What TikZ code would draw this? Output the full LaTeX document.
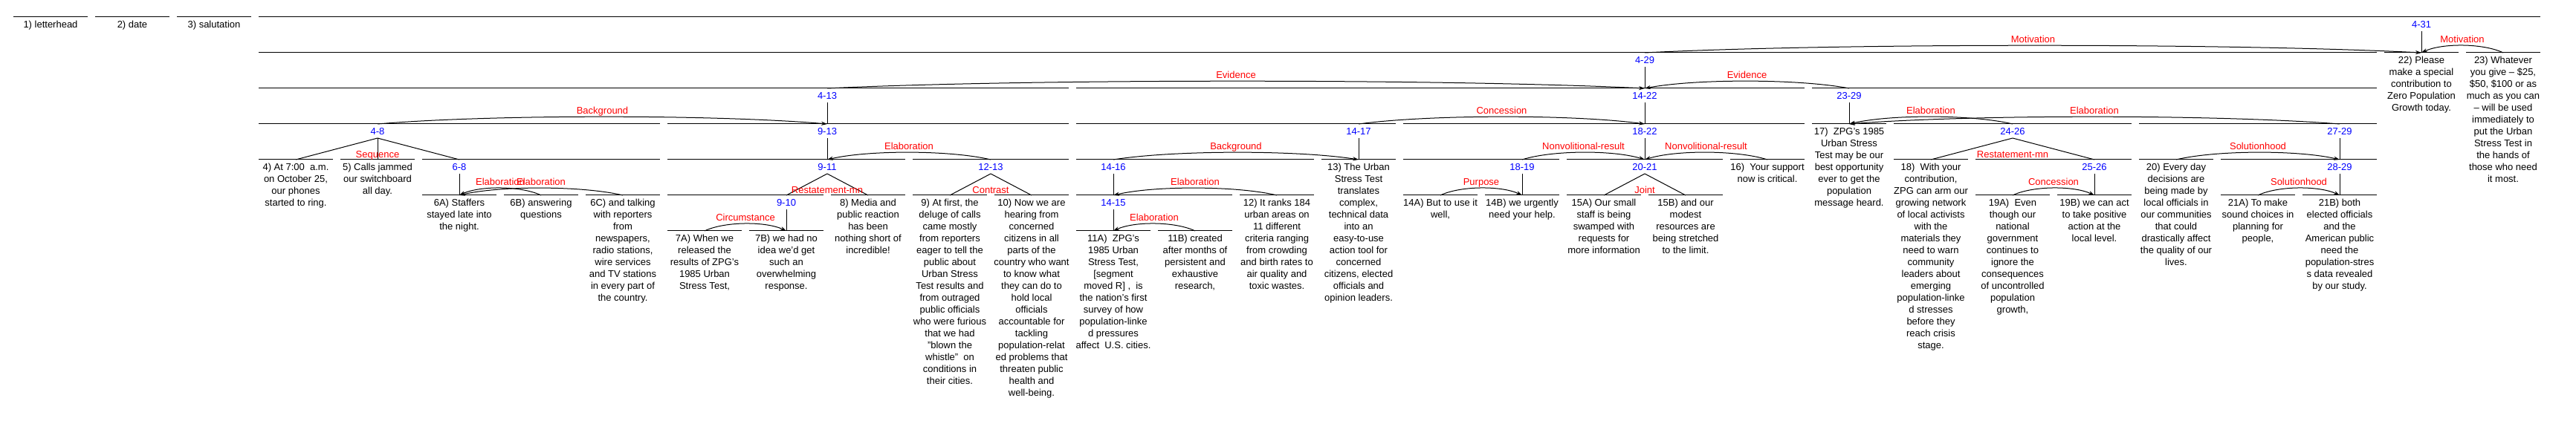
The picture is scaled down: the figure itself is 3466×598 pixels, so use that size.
\documentclass[tikz,border=0pt]{standalone}
\usepackage{fontspec}
\setmainfont{Liberation Sans}
\usetikzlibrary{calc, arrows.meta}
\tikzset{
    seg/.style={line width=0.5pt},
    spanlbl/.style={anchor=north, inner xsep=0pt, inner ysep=2pt, text=blue},
    leaftxt/.style={anchor=north, inner sep=0pt, align=center},
    rellbl/.style={anchor=base, inner sep=0pt, text=red},
    satarc/.style={line width=0.5pt, -{Stealth[length=4pt, width=2.6pt]}},
}
\newcommand{\relarc}[3]{%
  \draw[satarc] (t#1) .. controls ($(t#1)!.25!(t#2)+(0,-13)$) and ($(t#1)!.75!(t#2)+(0,-13)$) .. (t#2);
  \node[rellbl] (r#1) at ($(t#1)!.5!(t#2)+(0,-13)$) {#3};
}

\begin{document}
\begin{tikzpicture}[x=0.5pt, y=-0.5pt, font=\fontsize{6.5}{8}\selectfont]
\useasboundingbox (0,0) rectangle (3466,598);
% leaves: name/column/level
\foreach \nm/\col/\lv in {1/0/23, 2/1/23, 3/2/23, 4/3/215, 5/4/215, 6A/5/263, 6B/6/263, 6C/7/263,
    7A/8/311, 7B/9/311, 8/10/263, 9/11/263, 10/12/263, 11A/13/311, 11B/14/311, 12/15/263,
    13/16/215, 14A/17/263, 14B/18/263, 15A/19/263, 15B/20/263, 16/21/215, 17/22/167, 18/23/215,
    19A/24/263, 19B/25/263, 20/26/215, 21A/27/263, 21B/28/263, 22/29/71, 23/30/71} {
    \draw[seg] ({18+110*\col},\lv) -- ({118+110*\col},\lv);
    \coordinate (t\nm) at ({68+110*\col},\lv);
}
% spans: name/left/right/x/level
\foreach \nm/\xa/\xb/\xc/\lv in {4-31/348/3418/3258/23, 4-29/348/3198/2213/71,
    4-13/348/1438/1113/119, 14-22/1448/2428/2213/119, 23-29/2438/3198/2488/119,
    4-8/348/888/508/167, 9-13/898/1438/1113/167, 14-17/1448/1878/1828/167,
    18-22/1888/2428/2213/167, 24-26/2548/2868/2708/167, 27-29/2878/3198/3148/167,
    6-8/568/888/618/215, 9-11/898/1218/1113/215, 12-13/1228/1438/1333/215,
    14-16/1448/1768/1498/215, 18-19/1888/2098/2048/215, 20-21/2108/2318/2213/215,
    25-26/2658/2868/2818/215, 28-29/2988/3198/3148/215,
    9-10/898/1108/1058/263, 14-15/1448/1658/1498/263} {
    \draw[seg] (\xa,\lv) -- (\xb,\lv);
    \coordinate (t\nm) at (\xc,\lv);
    \node[spanlbl] (n\nm) at (\xc,\lv+1) {\nm};
}
% nucleus links
\foreach \spn/\kid in {4-31/22, 4-29/14-22, 4-13/9-13, 14-22/18-22, 23-29/17, 9-13/9-11,
    14-17/13, 18-22/20-21, 27-29/28-29, 6-8/6A, 14-16/14-15, 18-19/14B, 25-26/19B,
    28-29/21B, 9-10/7B, 14-15/11A, 4-8/4, 4-8/5, 4-8/6-8, 24-26/18, 24-26/25-26,
    9-11/9-10, 9-11/8, 12-13/9, 12-13/10, 20-21/15A, 20-21/15B} {
    \draw[seg] (n\spn.south) -- (t\kid);
}
% multinuclear relations
\node[rellbl] (m4-8) at (508,213) {Sequence};
\node[rellbl] (m24-26) at (2708,213) {Restatement-mn};
\node[rellbl] (m9-11) at (1113,261) {Restatement-mn};
\node[rellbl] (m12-13) at (1333,261) {Contrast};
\node[rellbl] (m20-21) at (2213,261) {Joint};
% satellite arcs
\foreach \sat/\nuc/\rel in {4-29/22/Motivation, 23/22/Motivation, 4-13/14-22/Evidence,
    23-29/14-22/Evidence, 4-8/9-13/Background, 14-17/18-22/Concession, 24-26/17/Elaboration,
    27-29/17/Elaboration, 12-13/9-11/Elaboration, 14-16/13/Background,
    18-19/20-21/Nonvolitional-result, 16/20-21/Nonvolitional-result, 20/28-29/Solutionhood,
    6B/6A/Elaboration, 6C/6A/Elaboration, 12/14-15/Elaboration, 14A/14B/Purpose,
    19A/19B/Concession, 21A/21B/Solutionhood, 7A/7B/Circumstance, 11B/11A/Elaboration} {
    \relarc{\sat}{\nuc}{\rel}
}
% texts
\node[leaftxt] (x1) at ($(t1)+(0,5)$) {1) letterhead};
\node[leaftxt] (x2) at ($(t2)+(0,5)$) {2) date};
\node[leaftxt] (x3) at ($(t3)+(0,5)$) {3) salutation};
\node[leaftxt] (x4) at ($(t4)+(0,5)$) {4) At 7:00 \ a.m.\\on October 25,\\our phones\\started to ring.};
\node[leaftxt] (x5) at ($(t5)+(0,5)$) {5) Calls jammed\\our switchboard\\all day.};
\node[leaftxt] (x6A) at ($(t6A)+(0,5)$) {6A) Staffers\\stayed late into\\the night.};
\node[leaftxt] (x6B) at ($(t6B)+(0,5)$) {6B) answering\\questions};
\node[leaftxt] (x6C) at ($(t6C)+(0,5)$) {6C) and talking\\with reporters\\from\\newspapers,\\radio stations,\\wire services\\and TV stations\\in every part of\\the country.};
\node[leaftxt] (x7A) at ($(t7A)+(0,5)$) {7A) When we\\released the\\results of ZPG's\\1985 Urban\\Stress Test,};
\node[leaftxt] (x7B) at ($(t7B)+(0,5)$) {7B) we had no\\idea we'd get\\such an\\overwhelming\\response.};
\node[leaftxt] (x8) at ($(t8)+(0,5)$) {8) Media and\\public reaction\\has been\\nothing short of\\incredible!};
\node[leaftxt] (x9) at ($(t9)+(0,5)$) {9) At first, the\\deluge of calls\\came mostly\\from reporters\\eager to tell the\\public about\\Urban Stress\\Test results and\\from outraged\\public officials\\who were furious\\that we had\\"blown the\\whistle" \ on\\conditions in\\their cities.};
\node[leaftxt] (x10) at ($(t10)+(0,5)$) {10) Now we are\\hearing from\\concerned\\citizens in all\\parts of the\\country who want\\to know what\\they can do to\\hold local\\officials\\accountable for\\tackling\\population-relat\\ed problems that\\threaten public\\health and\\well-being.};
\node[leaftxt] (x11A) at ($(t11A)+(0,5)$) {11A) \ ZPG's\\1985 Urban\\Stress Test,\\{[}segment\\moved R] , \ is\\the nation's first\\survey of how\\population-linke\\d pressures\\affect \ U.S. cities.};
\node[leaftxt] (x11B) at ($(t11B)+(0,5)$) {11B) created\\after months of\\persistent and\\exhaustive\\research,};
\node[leaftxt] (x12) at ($(t12)+(0,5)$) {12) It ranks 184\\urban areas on\\11 different\\criteria ranging\\from crowding\\and birth rates to\\air quality and\\toxic wastes.};
\node[leaftxt] (x13) at ($(t13)+(0,5)$) {13) The Urban\\Stress Test\\translates\\complex,\\technical data\\into an\\easy-to-use\\action tool for\\concerned\\citizens, elected\\officials and\\opinion leaders.};
\node[leaftxt] (x14A) at ($(t14A)+(0,5)$) {14A) But to use it\\well,};
\node[leaftxt] (x14B) at ($(t14B)+(0,5)$) {14B) we urgently\\need your help.};
\node[leaftxt] (x15A) at ($(t15A)+(0,5)$) {15A) Our small\\staff is being\\swamped with\\requests for\\more information};
\node[leaftxt] (x15B) at ($(t15B)+(0,5)$) {15B) and our\\modest\\resources are\\being stretched\\to the limit.};
\node[leaftxt] (x16) at ($(t16)+(0,5)$) {16) \ Your support\\now is critical.};
\node[leaftxt] (x17) at ($(t17)+(0,5)$) {17) \ ZPG's 1985\\Urban Stress\\Test may be our\\best opportunity\\ever to get the\\population\\message heard.};
\node[leaftxt] (x18) at ($(t18)+(0,5)$) {18) \ With your\\contribution,\\ZPG can arm our\\growing network\\of local activists\\with the\\materials they\\need to warn\\community\\leaders about\\emerging\\population-linke\\d stresses\\before they\\reach crisis\\stage.};
\node[leaftxt] (x19A) at ($(t19A)+(0,5)$) {19A) \ Even\\though our\\national\\government\\continues to\\ignore the\\consequences\\of uncontrolled\\population\\growth,};
\node[leaftxt] (x19B) at ($(t19B)+(0,5)$) {19B) we can act\\to take positive\\action at the\\local level.};
\node[leaftxt] (x20) at ($(t20)+(0,5)$) {20) Every day\\decisions are\\being made by\\local officials in\\our communities\\that could\\drastically affect\\the quality of our\\lives.};
\node[leaftxt] (x21A) at ($(t21A)+(0,5)$) {21A) To make\\sound choices in\\planning for\\people,};
\node[leaftxt] (x21B) at ($(t21B)+(0,5)$) {21B) both\\elected officials\\and the\\American public\\need the\\population-stres\\s data revealed\\by our study.};
\node[leaftxt] (x22) at ($(t22)+(0,5)$) {22) Please\\make a special\\contribution to\\Zero Population\\Growth today.};
\node[leaftxt] (x23) at ($(t23)+(0,5)$) {23) Whatever\\you give -- \$25,\\\$50, \$100 or as\\much as you can\\-- will be used\\immediately to\\put the Urban\\Stress Test in\\the hands of\\those who need\\it most.};
\end{tikzpicture}
\end{document}
